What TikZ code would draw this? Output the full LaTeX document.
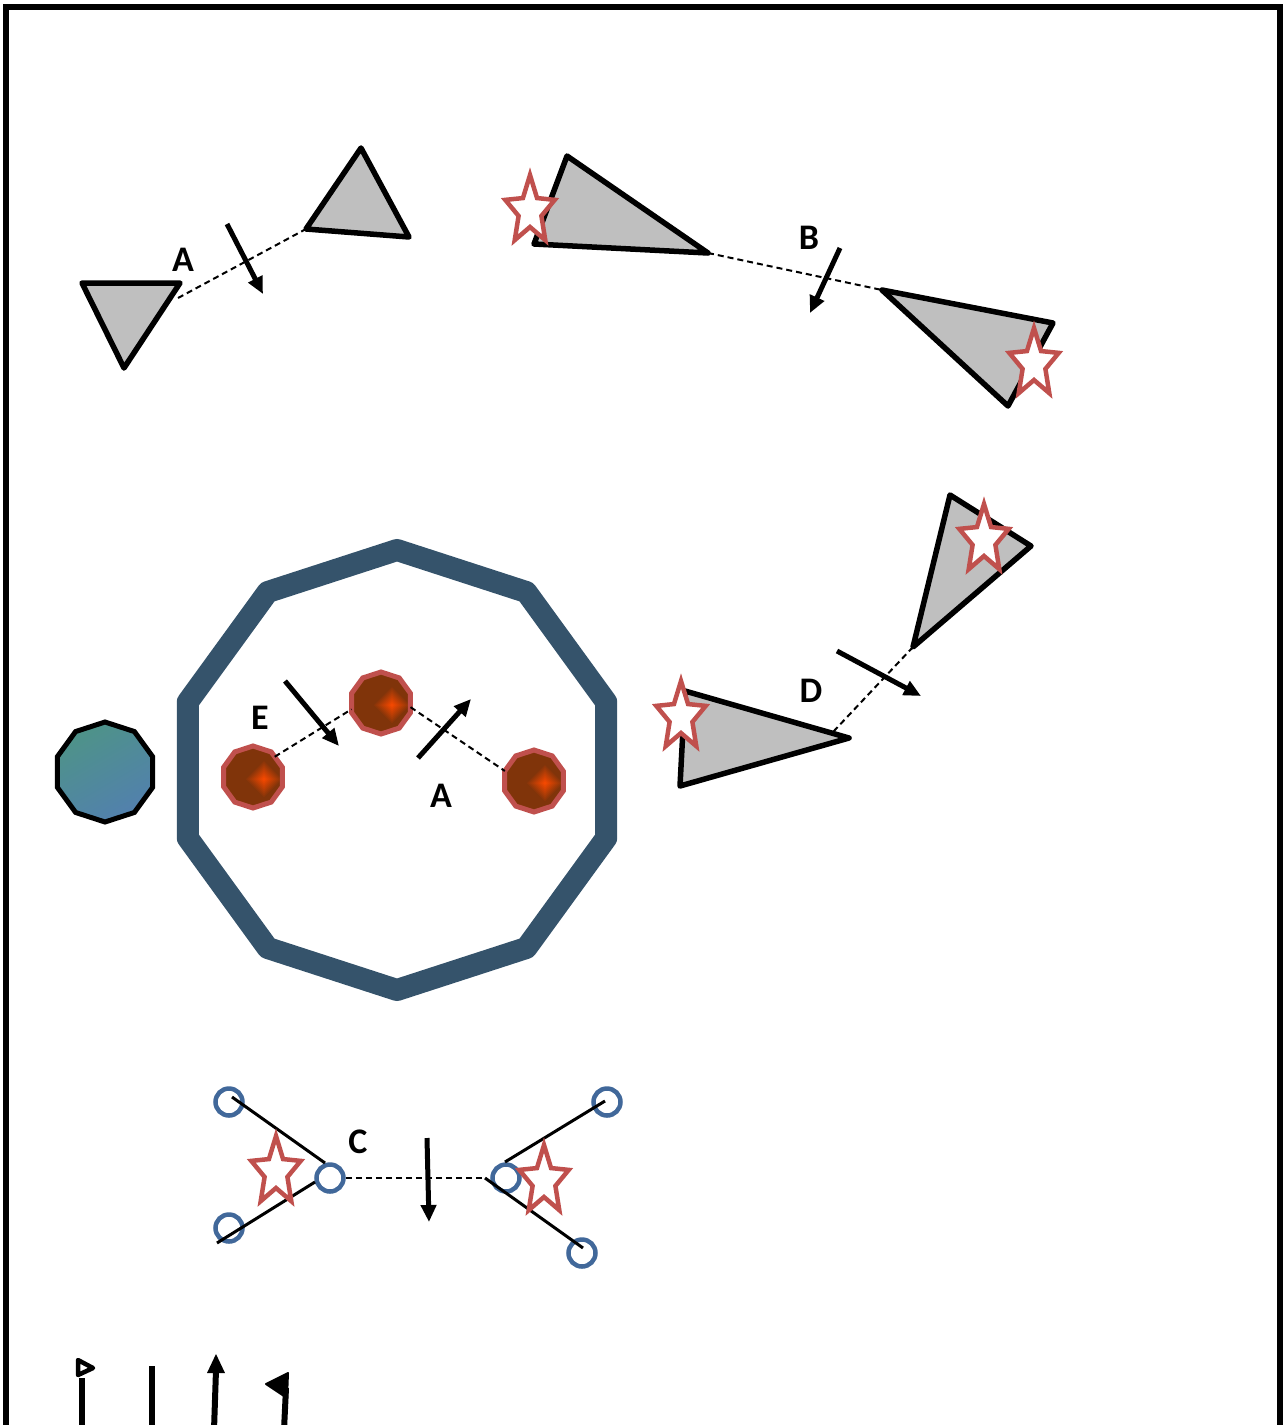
\documentclass[tikz,border=0pt]{standalone}
\usepackage{fontspec}
\setmainfont{Carlito}
\usetikzlibrary{shapes.geometric,arrows.meta}
\definecolor{grayf}{HTML}{BFBFBF}
\definecolor{starred}{HTML}{C0504D}
\definecolor{navyc}{HTML}{35536B}
\definecolor{brownc}{HTML}{80340A}
\definecolor{glowc}{HTML}{FF4A00}
\definecolor{circblue}{HTML}{41689A}
\definecolor{tealc}{HTML}{4E9388}
\definecolor{bluec}{HTML}{5280AE}
\begin{document}
\begin{tikzpicture}[x=1pt,y=-1pt,
  tri/.style={draw=black,fill=grayf,line width=5.5pt,line join=round},
  conn/.style={draw=black,line width=2pt,dash pattern=on 6pt off 4pt},
  mv/.style={draw=black,line width=5pt,-{Triangle[length=17pt,width=15pt]}},
  lbl/.style={font=\fontsize{36}{36}\selectfont\bfseries,inner sep=0pt},
  dec/.style={regular polygon,regular polygon sides=10,shape border rotate=18,inner sep=0pt,outer sep=0pt},
  reddec/.style={dec,minimum size=62pt,fill=brownc,draw=starred,line width=5pt,
    path picture={
      \foreach \s in {20,18,...,2}{
        \pgfmathsetmacro{\t}{100*(1-\s/20)}
        \fill[glowc!\t!brownc] ([xshift=11pt,yshift=-2pt]path picture bounding box.center) ++(\s,0) -- ++(-\s,\s) -- ++(-\s,-\s) -- ++(\s,-\s) -- cycle;
      }}},
  bcirc/.style={circle,draw=circblue,line width=4.5pt,minimum size=27pt,inner sep=0pt},
  cline/.style={draw=black,line width=3pt},
  rstar/.pic={\draw[draw=starred,fill=white,line width=4.5pt,line join=miter]
     (-90:26 and 36) -- (-54:12 and 16) -- (-18:26 and 36) -- (18:12 and 16) -- (54:26 and 36)
     -- (90:12 and 16) -- (126:26 and 36) -- (162:12 and 16) -- (198:26 and 36) -- (234:12 and 16) -- cycle;}
]
\useasboundingbox (0,0) rectangle (1283,1425);
% frame
\draw[line width=5.5pt] (6,7) rectangle (1280,1428);

% ---- group A (top left)
\draw[tri] (82,283) coordinate (t1a) -- (180,283) coordinate (t1b) -- (124,368) coordinate (t1c) -- cycle;
\draw[tri] (361,148) coordinate (t2a) -- (409,237) coordinate (t2b) -- (306,229) coordinate (t2c) -- cycle;
\coordinate (dA1) at (178,298);
\draw[conn] (dA1) -- (t2c);
\node[lbl] (lA1) at (183,260) {A};
\coordinate (mA1s) at (227,224); \coordinate (mA1e) at (263,294);
\draw[mv] (mA1s) -- (mA1e);

% ---- group B (top right)
\draw[tri] (567,156) coordinate (t3a) -- (708,253) coordinate (t3b) -- (534,244) coordinate (t3c) -- cycle;
\draw[tri] (882,290) coordinate (t4a) -- (1053,323) coordinate (t4b) -- (1008,406) coordinate (t4c) -- cycle;
\draw[conn] (t3b) -- (t4a);
\node[lbl] (lB) at (809,238) {B};
\coordinate (mBs) at (840,248); \coordinate (mBe) at (810,313);
\draw[mv] (mBs) -- (mBe);
\pic at (530,211) {rstar};
\pic at (1034,364) {rstar};

% ---- group D
\draw[tri] (950,495) coordinate (t5a) -- (1031,546) coordinate (t5b) -- (913,647) coordinate (t5c) -- cycle;
\draw[tri] (685,691) coordinate (t6a) -- (849,738) coordinate (t6b) -- (680,786) coordinate (t6c) -- cycle;
\coordinate (dD2) at (833,732);
\draw[conn] (t5c) -- (dD2);
\node[lbl] (lD) at (811,691) {D};
\coordinate (mDs) at (837,651); \coordinate (mDe) at (921,696);
\draw[mv] (mDs) -- (mDe);
\pic at (984,540) {rstar};
\pic at (681,717) {rstar};

% ---- big decagon and small one
\node[dec,minimum size=440pt,draw=navyc,line width=22pt,line join=round] (ring) at (397,770) {};
\node[dec,minimum size=100pt,draw=black,line width=5pt,top color=tealc,bottom color=bluec,shading angle=30] (gem) at (105,772) {};

% ---- red decagons inside
\node[reddec] (r1) at (253,777) {};
\node[reddec] (r2) at (381,703) {};
\node[reddec] (r3) at (534,781) {};
\draw[conn] (r1.43) -- (r2.192);
\draw[conn] (r2.352) -- (r3.161);
\node[lbl] (lE) at (260,718) {E};
\node[lbl] (lA2) at (441,796) {A};
\coordinate (mEs) at (285,681); \coordinate (mEe) at (339,746);
\draw[mv] (mEs) -- (mEe);
\coordinate (mA2s) at (418,758); \coordinate (mA2e) at (471,699);
\draw[mv] (mA2s) -- (mA2e);

% ---- group C
\node[bcirc] (b1) at (229,1102) {};
\node[bcirc] (b2) at (229,1228) {};
\node[bcirc] (b3) at (330,1178) {};
\node[bcirc] (b4) at (506,1178) {};
\node[bcirc] (b5) at (607,1102) {};
\node[bcirc] (b6) at (582,1253) {};
\coordinate (l1s) at (232,1097); \coordinate (l1e) at (325,1163);
\coordinate (l2s) at (217,1243); \coordinate (l2e) at (315,1182);
\coordinate (l3s) at (605,1101); \coordinate (l3e) at (505,1162);
\coordinate (l4s) at (485,1178); \coordinate (l4e) at (583,1248);
\draw[cline] (l1s) -- (l1e);
\draw[cline] (l2s) -- (l2e);
\draw[cline] (l3s) -- (l3e);
\draw[cline] (l4s) -- (l4e);
\draw[conn] (b3.east) -- (l4s);
\node[lbl] (lC) at (358,1142) {C};
\coordinate (mCs) at (427,1138); \coordinate (mCe) at (429,1222);
\draw[mv] (mCs) -- (mCe);
\pic at (276,1172) {rstar};
\pic at (544,1181) {rstar};

% ---- bottom arrow tips
\draw[line width=6pt] (82,1430) -- (82,1378);
\draw[line width=4.5pt,line join=round] (78,1360) -- (93,1368) -- (78,1375) -- cycle;
\draw[line width=6pt] (152,1430) -- (152,1366);
\draw[line width=6pt] (214,1430) -- (216,1370);
\fill (216,1354) -- (225,1373) -- (207,1373) -- cycle;
\draw[line width=6pt] (284,1430) -- (286,1388);
\filldraw[line width=2pt,line join=round] (288,1373) -- (266,1384) -- (287,1398) -- cycle;
\end{tikzpicture}
\end{document}
